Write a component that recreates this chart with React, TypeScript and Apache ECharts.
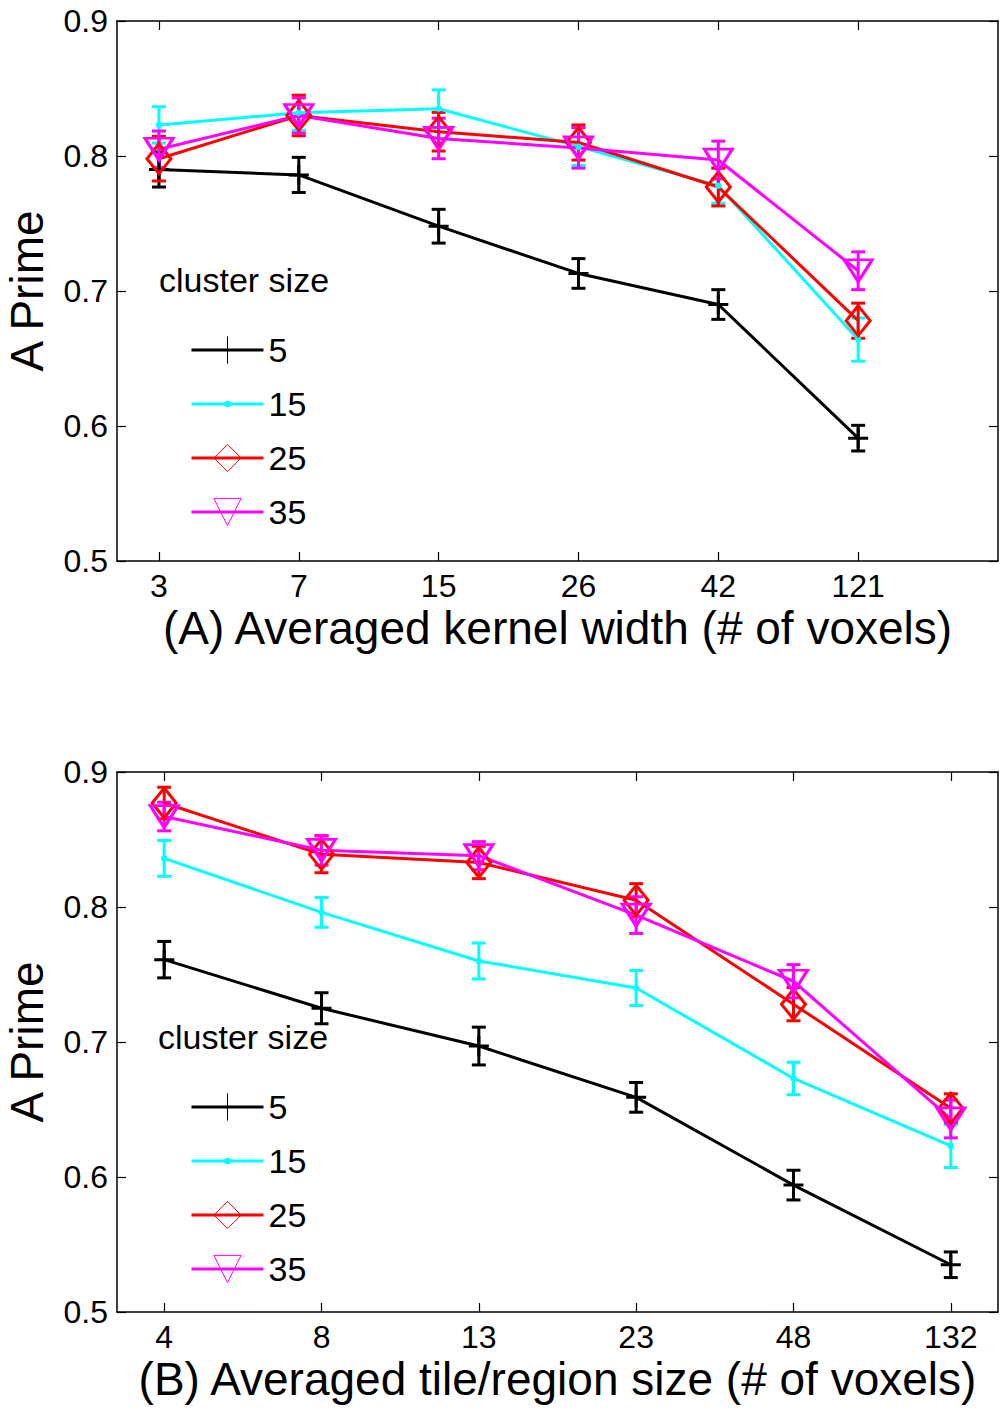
import React, { useEffect, useRef } from 'react';
import * as echarts from 'echarts';

// ---- Data ----
const kernelLabels = ['3', '7', '15', '26', '42', '121'];
const tileLabels = ['4', '8', '13', '23', '48', '132'];
const clusterNames = ['5', '15', '25', '35'];

// Panel A: A Prime vs averaged kernel width
const a5 = [0.790, 0.786, 0.748, 0.713, 0.690, 0.591];
const a5err = [0.013, 0.013, 0.0125, 0.011, 0.011, 0.0095];
const a15 = [0.823, 0.832, 0.835, 0.807, 0.778, 0.664];
const a15err = [0.0135, 0.013, 0.014, 0.014, 0.013, 0.016];
const a25 = [0.798, 0.830, 0.818, 0.810, 0.777, 0.678];
const a25err = [0.0165, 0.015, 0.0143, 0.013, 0.014, 0.013];
const a35 = [0.805, 0.830, 0.813, 0.806, 0.797, 0.715];
const a35err = [0.0135, 0.013, 0.015, 0.015, 0.014, 0.014];

// Panel B: A Prime vs averaged tile/region size
const b5 = [0.761, 0.725, 0.697, 0.659, 0.594, 0.535];
const b5err = [0.0135, 0.0115, 0.014, 0.011, 0.011, 0.0095];
const b15 = [0.836, 0.796, 0.760, 0.740, 0.673, 0.623];
const b15err = [0.0133, 0.011, 0.0133, 0.013, 0.012, 0.016];
const b25 = [0.877, 0.839, 0.833, 0.805, 0.728, 0.651];
const b25err = [0.0117, 0.0136, 0.012, 0.0123, 0.0123, 0.0106];
const b35 = [0.867, 0.842, 0.838, 0.794, 0.745, 0.643];
const b35err = [0.0106, 0.011, 0.0104, 0.0136, 0.0123, 0.014];

const xPositions = [1, 2, 3, 4, 5, 6];

// ---- Styles ----
const FONT = "'Liberation Sans', Arial, Helvetica, sans-serif";
const colors = ['#000000', '#00ffff', '#ff0000', '#ff00ff'];
const plusPath = 'path://M0 10 L20 10 M10 0 L10 20';
const dotPath = 'path://M0 0 M100 100 M38 50 A12 12 0 1 1 62 50 A12 12 0 1 1 38 50 Z';
const symbols = [plusPath, dotPath, 'diamond', 'triangle'];
const symbolSizes: any[] = [20, 26, [24, 30], [28, 22]];
const symbolRotates = [0, 0, 0, 180];
const fills = ['rgba(0,0,0,0)', '#00ffff', 'rgba(0,0,0,0)', 'rgba(0,0,0,0)'];
const borderW = [3, 0, 3, 3];

function makeAxesX(min: number, max: number, labels: string[], name: string) {
  const common = {
    type: 'value',
    min,
    max,
    axisLine: { show: true, onZero: false, lineStyle: { color: '#000', width: 1.5 } },
    axisTick: { show: true, inside: true, length: 9, customValues: xPositions, lineStyle: { color: '#000', width: 1.2 } },
    splitLine: { show: false },
  };
  return [
    {
      ...common,
      position: 'bottom',
      axisLabel: {
        show: true,
        customValues: xPositions,
        formatter: (v: number) => labels[Math.round(v) - 1] ?? '',
        color: '#000',
        fontSize: 32,
        lineHeight: 30,
        fontFamily: FONT,
        margin: 10,
      },
      name,
      nameLocation: 'middle',
      nameGap: 47,
      nameTextStyle: { color: '#000', fontSize: 46, lineHeight: 40, fontFamily: FONT },
    },
    { ...common, position: 'top', axisLabel: { show: false } },
  ];
}

function makeAxesY() {
  const common = {
    type: 'value',
    min: 0.5,
    max: 0.9,
    interval: 0.1,
    axisLine: { show: true, onZero: false, lineStyle: { color: '#000', width: 1.5 } },
    axisTick: { show: true, inside: true, length: 9, lineStyle: { color: '#000', width: 1.2 } },
    splitLine: { show: false },
  };
  return [
    {
      ...common,
      position: 'left',
      axisLabel: {
        show: true,
        formatter: (v: number) => v.toFixed(1),
        color: '#000',
        fontSize: 32,
        fontFamily: FONT,
        margin: 9,
      },
      name: 'A Prime',
      nameLocation: 'middle',
      nameGap: 67,
      nameTextStyle: { color: '#000', fontSize: 46, lineHeight: 46, fontFamily: FONT },
    },
    { ...common, position: 'right', axisLabel: { show: false } },
  ];
}

function errSeries(vals: number[], errs: number[], color: string, xi: number, yi: number) {
  return {
    type: 'custom',
    name: 'err',
    xAxisIndex: xi,
    yAxisIndex: yi,
    silent: true,
    clip: false,
    data: vals.map((v, i) => [xPositions[i], v, errs[i]]),
    encode: { x: 0, y: 1 },
    renderItem: (_p: any, api: any) => {
      const x = api.value(0);
      const y = api.value(1);
      const e = api.value(2);
      const top = api.coord([x, y + e]);
      const bot = api.coord([x, y - e]);
      const hw = 7;
      const style = { stroke: color, lineWidth: 3, fill: 'none' };
      return {
        type: 'group',
        children: [
          { type: 'line', shape: { x1: top[0], y1: top[1], x2: bot[0], y2: bot[1] }, style },
          { type: 'line', shape: { x1: top[0] - hw, y1: top[1], x2: top[0] + hw, y2: top[1] }, style },
          { type: 'line', shape: { x1: bot[0] - hw, y1: bot[1], x2: bot[0] + hw, y2: bot[1] }, style },
        ],
      };
    },
  };
}

function lineSeries(k: number, vals: number[], xi: number, yi: number) {
  return {
    type: 'line',
    name: clusterNames[k],
    xAxisIndex: xi,
    yAxisIndex: yi,
    data: vals.map((v, i) => [xPositions[i], v]),
    symbol: symbols[k],
    symbolSize: symbolSizes[k],
    symbolRotate: symbolRotates[k],
    showSymbol: true,
    showAllSymbol: true,
    clip: false,
    silent: true,
    emphasis: { disabled: true },
    lineStyle: { color: colors[k], width: 3 },
    itemStyle: { color: fills[k], borderColor: colors[k], borderWidth: borderW[k] },
  };
}

function legendFor(top: number) {
  return {
    show: true,
    orient: 'vertical',
    left: 190,
    top,
    padding: 0,
    itemWidth: 72,
    itemHeight: 34,
    itemGap: 20,
    selectedMode: false,
    textStyle: { color: '#000', fontSize: 34, fontFamily: FONT, lineHeight: 34 },
    data: clusterNames.map((n, k) => ({
      name: n,
      itemStyle: {
        color: fills[k],
        borderColor: colors[k],
        borderWidth: k === 1 ? 0 : 1,
      },
      lineStyle: { color: colors[k], width: 3 },
    })),
  };
}

export default function App() {
  const ref = useRef<HTMLDivElement>(null);
  useEffect(() => {
    document.body.style.margin = '0';
    if (!ref.current) return;
    const chart = echarts.init(ref.current, undefined, { renderer: 'svg' });
    const panelA = [a5, a15, a25, a35];
    const panelAErr = [a5err, a15err, a25err, a35err];
    const panelB = [b5, b15, b25, b35];
    const panelBErr = [b5err, b15err, b25err, b35err];
    const series: any[] = [];
    panelA.forEach((vals, k) => {
      series.push(errSeries(vals, panelAErr[k], colors[k], 0, 0));
      series.push(lineSeries(k, vals, 0, 0));
    });
    panelB.forEach((vals, k) => {
      series.push(errSeries(vals, panelBErr[k], colors[k], 2, 2));
      series.push(lineSeries(k, vals, 2, 2));
    });
    const option: any = {
      animation: false,
      backgroundColor: '#ffffff',
      textStyle: { fontFamily: FONT },
      grid: [
        { left: 117, top: 21, width: 881, height: 540, containLabel: false, outerBoundsMode: 'none' },
        { left: 117, top: 772, width: 881, height: 540, containLabel: false, outerBoundsMode: 'none' },
      ],
      xAxis: [
        ...makeAxesX(0.7, 7, kernelLabels, '(A) Averaged kernel width (# of voxels)').map((a) => ({ ...a, gridIndex: 0 })),
        ...makeAxesX(0.7, 6.3, tileLabels, '(B) Averaged tile/region size (# of voxels)').map((a) => ({ ...a, gridIndex: 1 })),
      ],
      yAxis: [
        ...makeAxesY().map((a) => ({ ...a, gridIndex: 0 })),
        ...makeAxesY().map((a) => ({ ...a, gridIndex: 1 })),
      ],
      legend: [legendFor(333), legendFor(1090)],
      graphic: [
        {
          type: 'text',
          x: 159,
          y: 280,
          style: { text: 'cluster size', fill: '#000', font: `34px ${FONT}`, verticalAlign: 'middle' },
        },
        {
          type: 'text',
          x: 158,
          y: 1037,
          style: { text: 'cluster size', fill: '#000', font: `34px ${FONT}`, verticalAlign: 'middle' },
        },
      ],
      series,
    };
    chart.setOption(option);
    return () => chart.dispose();
  }, []);
  return <div ref={ref} style={{ width: 1008, height: 1412 }} />;
}
